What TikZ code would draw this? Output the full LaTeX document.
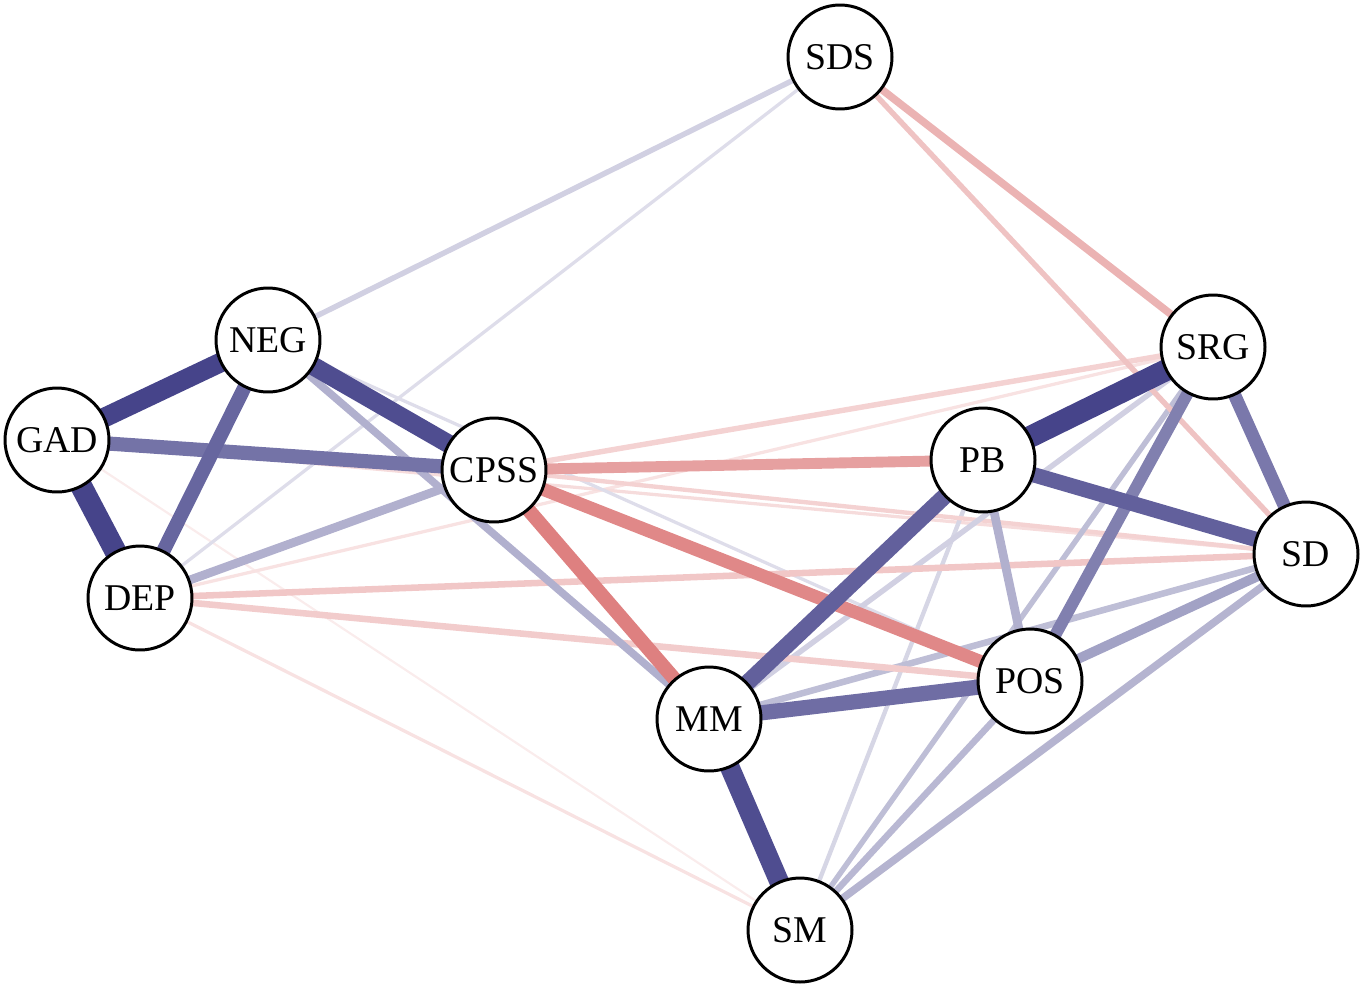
\documentclass[tikz,border=0pt]{standalone}
\usepackage{fontspec}
\setmainfont{Liberation Serif}
\usepackage{xcolor}
\usetikzlibrary{backgrounds}
\definecolor{posblue}{RGB}{70,68,138}
\definecolor{negred}{RGB}{214,96,96}
\tikzset{
  var/.style={circle,draw=black,line width=1.7pt,fill=white,minimum size=2.08cm,inner sep=0pt,font=\fontsize{21.5}{25}\selectfont},
  posedge/.style 2 args={draw=posblue!#2!white,line width=#1*0.62pt},
  negedge/.style 2 args={draw=negred!#2!white,line width=#1*0.62pt}
}

\begin{document}
\begin{tikzpicture}[x=0.02cm,y=-0.02cm]
  \useasboundingbox (0,0) rectangle (1364,987);
  \node[var] (sds) at (840,57) {SDS};
  \node[var] (neg) at (268,340) {NEG};
  \node[var] (gad) at (57,440) {GAD};
  \node[var] (cpss) at (494,470) {CPSS};
  \node[var] (dep) at (140,598) {DEP};
  \node[var] (pb) at (983,460) {PB};
  \node[var] (srg) at (1213,347) {SRG};
  \node[var] (sd) at (1306,554) {SD};
  \node[var] (pos) at (1030,681) {POS};
  \node[var] (mm) at (709,719) {MM};
  \node[var] (sm) at (800,930) {SM};
  \begin{scope}[on background layer]
    % weak edges first
    \draw[negedge={2}{12}] (gad.center) -- (sm.center);
    \draw[negedge={3}{18}] (dep.center) -- (sm.center);
    \draw[negedge={3}{18}] (dep.center) -- (srg.center);
    \draw[negedge={3}{22}] (gad.center) -- (sd.center);
    \draw[posedge={3}{18}] (neg.center) -- (pos.center);
    \draw[posedge={3}{18}] (sds.center) -- (dep.center);
    \draw[posedge={4}{22}] (pb.center) -- (sm.center);
    \draw[negedge={4}{28}] (cpss.center) -- (sd.center);
    \draw[posedge={5}{25}] (sds.center) -- (neg.center);
    \draw[posedge={5}{25}] (srg.center) -- (mm.center);
    \draw[posedge={5}{35}] (srg.center) -- (sm.center);
    \draw[negedge={5}{28}] (cpss.center) -- (srg.center);
    \draw[negedge={5}{38}] (sds.center) -- (sd.center);
    \draw[posedge={6}{35}] (mm.center) -- (sd.center);
    \draw[posedge={6}{38}] (pos.center) -- (sm.center);
    \draw[negedge={6}{35}] (dep.center) -- (sd.center);
    \draw[negedge={6}{32}] (dep.center) -- (pos.center);
    \draw[posedge={7}{40}] (sd.center) -- (sm.center);
    \draw[posedge={7}{42}] (neg.center) -- (mm.center);
    \draw[negedge={7}{48}] (sds.center) -- (srg.center);
    \draw[posedge={8}{42}] (dep.center) -- (cpss.center);
    \draw[posedge={8}{42}] (pb.center) -- (pos.center);
    \draw[posedge={9}{50}] (pos.center) -- (sd.center);
    \draw[negedge={10}{60}] (cpss.center) -- (pb.center);
    \draw[posedge={11}{68}] (srg.center) -- (pos.center);
    \draw[posedge={12}{72}] (srg.center) -- (sd.center);
    \draw[negedge={12}{75}] (cpss.center) -- (pos.center);
    \draw[negedge={13}{80}] (cpss.center) -- (mm.center);
    \draw[posedge={13}{75}] (gad.center) -- (cpss.center);
    \draw[posedge={13}{82}] (neg.center) -- (dep.center);
    \draw[posedge={14}{78}] (mm.center) -- (pos.center);
    \draw[posedge={14}{85}] (pb.center) -- (sd.center);
    \draw[posedge={15}{85}] (mm.center) -- (pb.center);
    % strong edges on top
    \draw[posedge={17}{95}] (neg.center) -- (cpss.center);
    \draw[posedge={18}{95}] (mm.center) -- (sm.center);
    \draw[posedge={18}{100}] (gad.center) -- (neg.center);
    \draw[posedge={20}{100}] (gad.center) -- (dep.center);
    \draw[posedge={20}{100}] (pb.center) -- (srg.center);
  \end{scope}
\end{tikzpicture}
\end{document}
